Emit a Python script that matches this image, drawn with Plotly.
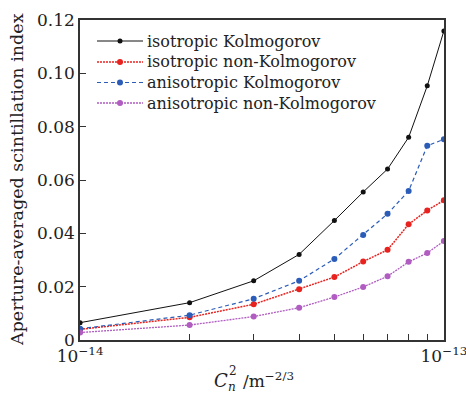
import plotly.graph_objects as go

cn2 = [1e-14, 2e-14, 3e-14, 4e-14, 5e-14, 6e-14, 7e-14, 8e-14, 9e-14, 1e-13]
iso_kolm = [0.0065, 0.0140, 0.0222, 0.0321, 0.0448, 0.0555, 0.0641, 0.0760, 0.0953, 0.1159]
iso_nonkolm = [0.0040, 0.0085, 0.0134, 0.0190, 0.0236, 0.0294, 0.0338, 0.0434, 0.0486, 0.0524]
aniso_kolm = [0.0042, 0.0093, 0.0155, 0.0222, 0.0304, 0.0394, 0.0473, 0.0559, 0.0728, 0.0753]
aniso_nonkolm = [0.0028, 0.0056, 0.0088, 0.0121, 0.0161, 0.0199, 0.0239, 0.0293, 0.0326, 0.0371]

names = ["isotropic Kolmogorov", "isotropic non-Kolmogorov",
         "anisotropic Kolmogorov", "anisotropic non-Kolmogorov"]
series = [iso_kolm, iso_nonkolm, aniso_kolm, aniso_nonkolm]
colors = ["#111111", "#e8231f", "#2b5cb8", "#b05cc0"]
dashes = ["solid", "2px,1px", "4px,3px", "2px,1px"]
widths = [1.0, 1.5, 1.2, 1.3]
msizes = [5, 6, 6, 6]

ytick_vals = [0, 0.02, 0.04, 0.06, 0.08, 0.10, 0.12]
ytick_text = ["0", "0.02", "0.04", "0.06", "0.08", "0.10", "0.12"]
xtick_vals = [1e-14, 1e-13]
xtick_text = ["10<sup>−14</sup>", "10<sup>−13</sup>"]
xminor_vals = [2e-14, 3e-14, 4e-14, 5e-14, 6e-14, 7e-14, 8e-14, 9e-14]

FONT = "DejaVu Serif"
TXT = "#222222"

# plot area in pixels
L, R, T, B = 80, 444, 20, 340
W, H = 466, 395


def px(x):
    return (x - L) / (R - L)


def py(y):
    return (B - y) / (B - T)


fig = go.Figure()
for name, ys, c, d, w, ms in zip(names, series, colors, dashes, widths, msizes):
    fig.add_trace(go.Scatter(
        x=cn2, y=ys, name=name, mode="lines+markers",
        line=dict(color=c, dash=d, width=w),
        marker=dict(color=c, size=ms, symbol="circle"),
        showlegend=False,
    ))

# custom legend (tighter row spacing than plotly's legend allows)
leg_rows = [41, 62, 82.5, 103]
shapes = []
annotations = []
for name, c, d, w, ms, yr in zip(names, colors, dashes, widths, msizes, leg_rows):
    shapes.append(dict(type="line", xref="paper", yref="paper",
                       x0=px(97), x1=px(143), y0=py(yr), y1=py(yr),
                       line=dict(color=c, dash=d, width=w)))
    r = ms / 2
    shapes.append(dict(type="circle", xref="paper", yref="paper",
                       x0=px(120 - r), x1=px(120 + r), y0=py(yr + r), y1=py(yr - r),
                       fillcolor=c, line=dict(color=c, width=0)))
    annotations.append(dict(text=name, xref="paper", yref="paper",
                            x=px(145), y=py(yr), xanchor="left", yanchor="middle",
                            showarrow=False, font=dict(family=FONT, size=16, color=TXT)))

# y-axis title
annotations.append(dict(text="Aperture-averaged scintillation index", xref="paper", yref="paper",
                        x=px(17), y=py(180), xanchor="center", yanchor="middle", textangle=-90,
                        showarrow=False, font=dict(family=FONT, size=17.5, color=TXT)))
# x-axis title with stacked subscript / superscript
annotations.append(dict(text="<i>C</i>", xref="paper", yref="paper",
                        x=px(212), y=py(380), xanchor="left", yanchor="middle",
                        showarrow=False, font=dict(family=FONT, size=18, color=TXT)))
annotations.append(dict(text="<i>n</i>", xref="paper", yref="paper",
                        x=px(226), y=py(387), xanchor="left", yanchor="middle",
                        showarrow=False, font=dict(family=FONT, size=12, color=TXT)))
annotations.append(dict(text="2", xref="paper", yref="paper",
                        x=px(227), y=py(371), xanchor="left", yanchor="middle",
                        showarrow=False, font=dict(family=FONT, size=12, color=TXT)))
annotations.append(dict(text="/m<sup>−2/3</sup>", xref="paper", yref="paper",
                        x=px(241), y=py(380), xanchor="left", yanchor="middle",
                        showarrow=False, font=dict(family=FONT, size=17, color=TXT)))

fig.update_layout(
    width=W, height=H,
    margin=dict(l=L, r=W - R, t=T, b=H - B, autoexpand=False),
    paper_bgcolor="white", plot_bgcolor="white",
    font=dict(family=FONT, color=TXT, size=16),
    showlegend=False,
    shapes=shapes,
    annotations=annotations,
)
fig.update_xaxes(
    type="log", range=[-14.0003, -12.9997],
    tickmode="array", tickvals=xtick_vals, ticktext=xtick_text,
    ticks="inside", ticklen=0, tickfont=dict(size=17),
    ticklabeloverflow="allow", automargin=False,
    minor=dict(tickmode="array", tickvals=xminor_vals, ticks="inside",
               ticklen=6, tickcolor="#333333", showgrid=False),
    showline=True, linecolor="#333333", linewidth=1.5, mirror=True,
    showgrid=False, zeroline=False,
)
fig.update_yaxes(
    range=[0, 0.12], automargin=False,
    tickmode="array", tickvals=ytick_vals, ticktext=ytick_text,
    ticks="inside", ticklen=6, tickcolor="#333333", tickfont=dict(size=17),
    showline=True, linecolor="#333333", linewidth=1.5, mirror=True,
    showgrid=False, zeroline=False,
)

fig.write_html("out.html", config={"displayModeBar": False},
               post_script="document.body.style.margin='0';document.body.style.overflow='hidden';")
